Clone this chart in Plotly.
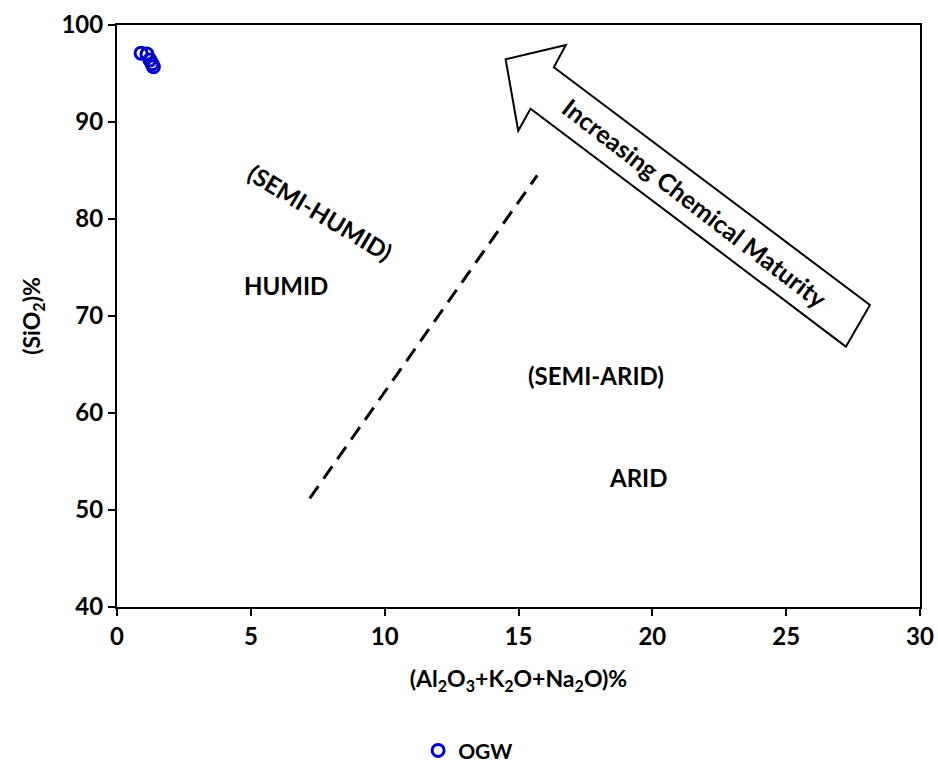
import plotly.graph_objects as go

# Data
ogw_x = [0.90, 1.12, 1.23, 1.31, 1.36]
ogw_y = [97.1, 97.0, 96.4, 96.0, 95.7]

# Field labels
label_text = ["(SEMI-HUMID)", "HUMID", "(SEMI-ARID)", "ARID"]
label_x = [7.6, 6.3, 17.9, 19.45]
label_y = [80.7, 73.1, 63.9, 53.4]
label_angle = [31, 0, 0, 0]

# Boundary (dashed) line end points
div_x = [7.2, 15.7]
div_y = [51.2, 84.5]

# Arrow outline (data coordinates)
arrow_x = [14.52, 16.77, 16.32, 28.13, 27.23, 15.45, 14.99]
arrow_y = [96.46, 97.94, 95.64, 71.13, 66.84, 91.37, 89.10]

FONT = "Lato"

fig = go.Figure()

fig.add_trace(go.Scatter(
    x=ogw_x, y=ogw_y, mode="markers", name="OGW",
    marker=dict(symbol="circle-open", size=12, color="#0000CC",
                line=dict(width=3, color="#0000CC")),
))

fig.add_trace(go.Scatter(
    x=div_x, y=div_y, mode="lines", showlegend=False, hoverinfo="skip",
    line=dict(color="black", width=3, dash="15px,9px"),
))

path = "M " + " L ".join(f"{x},{y}" for x, y in zip(arrow_x, arrow_y)) + " Z"
fig.add_shape(type="path", path=path, xref="x", yref="y",
              line=dict(color="black", width=2), fillcolor="white")

for t, x, y, a in zip(label_text, label_x, label_y, label_angle):
    fig.add_annotation(x=x, y=y, text=t, showarrow=False, textangle=a,
                       font=dict(family=FONT, size=24, color="black", weight="bold"))

fig.add_annotation(x=21.6, y=81.6, text="Increasing Chemical Maturity",
                   showarrow=False, textangle=37.5,
                   font=dict(family=FONT, size=25, color="black", weight="bold"))

axis_common = dict(
    showgrid=False, zeroline=False, showline=True, linecolor="black",
    linewidth=2, mirror=True, ticks="outside", ticklen=7, tickwidth=2,
    tickcolor="black", automargin=False,
    tickfont=dict(family=FONT, size=24, color="black", weight="bold"),
)

fig.update_xaxes(range=[0, 30], dtick=5, **axis_common,
                 title=dict(text="(Al<sub>2</sub>O<sub>3</sub>+K<sub>2</sub>O+Na<sub>2</sub>O)%",
                            font=dict(family=FONT, size=23, color="black", weight="bold"),
                            standoff=22))
fig.update_yaxes(range=[40, 100], dtick=10, **axis_common,
                 title=dict(text="(SiO<sub>2</sub>)%",
                            font=dict(family=FONT, size=23, color="black", weight="bold"),
                            standoff=14))

fig.update_layout(
    width=938, height=767,
    margin=dict(l=117, r=18, t=25, b=160, autoexpand=False),
    plot_bgcolor="white", paper_bgcolor="white",
    showlegend=True,
    legend=dict(orientation="h", x=0.375, y=-0.247, xanchor="left", yanchor="middle",
                font=dict(family=FONT, size=21, color="black", weight="bold"),
                itemwidth=30, tracegroupgap=0),
)

fig.write_html("out.html")
